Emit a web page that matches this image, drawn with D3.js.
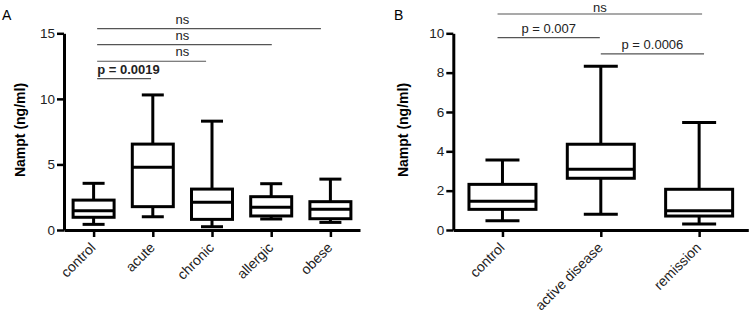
<!DOCTYPE html>
<html>
<head>
<meta charset="utf-8">
<script src="https://cdn.jsdelivr.net/npm/d3@7"></script>
<style>
  body { margin: 0; background: #fff; }
  svg { display: block; font-family: "Liberation Sans", Arial, sans-serif; }
</style>
</head>
<body>
<svg id="chart" width="750" height="315"></svg>
<script>
// panel A data
const catsA = ["control", "acute", "chronic", "allergic", "obese"];
const minA = [0.43, 1.01, 0.25, 0.84, 0.58];
const q1A = [0.97, 1.78, 0.81, 1.07, 0.86];
const medA = [1.47, 4.78, 2.11, 1.73, 1.58];
const q3A = [2.28, 6.55, 3.12, 2.54, 2.16];
const maxA = [3.56, 10.3, 8.3, 3.53, 3.88];
const yTicksA = [0, 5, 10, 15];

// significance bars A (x in category index units)
const sigLabelA = ["p = 0.0019", "ns", "ns", "ns"];
const sigFromA = [0.06, 0.06, 0.06, 0.06];
const sigToA = [0.97, 1.9, 3.01, 3.84];
const sigYA = [11.54, 12.87, 14.14, 15.36];

// panel B data
const catsB = ["control", "active disease", "remission"];
const minB = [0.47, 0.80, 0.31];
const q1B = [1.05, 2.63, 0.71];
const medB = [1.46, 3.09, 0.98];
const q3B = [2.32, 4.36, 2.07];
const maxB = [3.56, 8.32, 5.46];
const yTicksB = [0, 2, 4, 6, 8, 10];

const sigLabelB = ["ns", "p = 0.007", "p = 0.0006"];
const sigFromB = [-0.05, -0.05, 1.0];
const sigToB = [2.03, 0.99, 2.05];
const sigYB = [10.98, 9.78, 8.95];

const svg = d3.select("#chart");

function drawPanel(opt) {
  const g = svg.append("g");
  const x = d3.scalePoint().domain(opt.cats).range(opt.xRange).padding(0.5);
  const xi = d3.scaleLinear().domain([0, opt.cats.length - 1])
    .range([x(opt.cats[0]), x(opt.cats[opt.cats.length - 1])]);
  const y = d3.scaleLinear().domain(opt.yDomain).range([230, 33.3]);

  // y axis
  const ya = g.append("g")
    .attr("transform", `translate(${opt.xRange[0]},0)`)
    .call(d3.axisLeft(y).tickValues(opt.yTicks).tickSize(7).tickSizeOuter(0).tickPadding(2));
  ya.select(".domain").attr("stroke-width", 3);
  ya.selectAll(".tick line").attr("stroke-width", 2.5);
  ya.selectAll(".tick text").style("font-size", "13.5px").attr("fill", "#222");

  // x axis
  const xa = g.append("g")
    .attr("transform", "translate(0,230)")
    .call(d3.axisBottom(x).tickSize(7).tickSizeOuter(0));
  xa.select(".domain").attr("stroke-width", 3);
  xa.selectAll(".tick line").attr("stroke-width", 2.5);
  xa.selectAll(".tick text")
    .style("font-size", "14px")
    .attr("fill", "#222")
    .attr("text-anchor", "end")
    .attr("x", 0).attr("y", 0).attr("dy", "0.35em")
    .attr("transform", "translate(-1,15) rotate(-45)");

  // y label
  g.append("text")
    .attr("transform", `translate(${opt.labelX},130) rotate(-90)`)
    .attr("text-anchor", "middle")
    .style("font-size", "14px")
    .style("font-weight", "bold")
    .text("Nampt (ng/ml)");

  // panel letter
  g.append("text")
    .attr("x", opt.letterX).attr("y", 20)
    .style("font-size", "14px")
    .text(opt.letter);

  // boxes
  const data = opt.cats.map((c, i) => ({
    c, min: opt.min[i], q1: opt.q1[i], med: opt.med[i], q3: opt.q3[i], max: opt.max[i]
  }));
  const bw = opt.boxW, cw = opt.capW;
  const bx = g.selectAll(".box").data(data).enter().append("g")
    .attr("fill", "none").attr("stroke", "#000").attr("stroke-width", 3);
  bx.append("line")
    .attr("x1", d => x(d.c)).attr("x2", d => x(d.c))
    .attr("y1", d => y(d.max)).attr("y2", d => y(d.q3));
  bx.append("line")
    .attr("x1", d => x(d.c)).attr("x2", d => x(d.c))
    .attr("y1", d => y(d.q1)).attr("y2", d => y(d.min));
  bx.append("line")
    .attr("x1", d => x(d.c) - cw / 2).attr("x2", d => x(d.c) + cw / 2)
    .attr("y1", d => y(d.max)).attr("y2", d => y(d.max));
  bx.append("line")
    .attr("x1", d => x(d.c) - cw / 2).attr("x2", d => x(d.c) + cw / 2)
    .attr("y1", d => y(d.min)).attr("y2", d => y(d.min));
  bx.append("rect")
    .attr("x", d => x(d.c) - bw / 2).attr("width", bw)
    .attr("y", d => y(d.q3)).attr("height", d => y(d.q1) - y(d.q3))
    .attr("fill", "#fff");
  bx.append("line")
    .attr("x1", d => x(d.c) - bw / 2).attr("x2", d => x(d.c) + bw / 2)
    .attr("y1", d => y(d.med)).attr("y2", d => y(d.med));

  // significance bars
  const sig = opt.sigLabel.map((l, i) => ({
    l, from: opt.sigFrom[i], to: opt.sigTo[i], y: opt.sigY[i]
  }));
  const sg = g.selectAll(".sig").data(sig).enter().append("g");
  sg.append("line")
    .attr("x1", d => xi(d.from)).attr("x2", d => xi(d.to))
    .attr("y1", d => y(d.y)).attr("y2", d => y(d.y))
    .attr("stroke", "#555").attr("stroke-width", 1.2);
  sg.append("text")
    .attr("x", d => opt.sigTextX(d, xi))
    .attr("y", d => Math.max(y(d.y) - 5, 11.5))
    .attr("text-anchor", d => opt.sigAnchor(d))
    .style("font-size", "13px")
    .style("font-weight", d => d.l.startsWith("p") && opt.boldP ? "bold" : "normal")
    .attr("fill", "#222")
    .text(d => d.l);
}

drawPanel({
  cats: catsA, min: minA, q1: q1A, med: medA, q3: q3A, max: maxA,
  yDomain: [0, 15], yTicks: yTicksA, xRange: [64, 360],
  boxW: 41, capW: 22, labelX: 25, letter: "A", letterX: 2,
  sigLabel: sigLabelA, sigFrom: sigFromA, sigTo: sigToA, sigY: sigYA, boldP: true,
  sigTextX: (d, xi) => d.l === "ns" ? xi(1.5) : xi(d.from),
  sigAnchor: d => d.l === "ns" ? "middle" : "start"
});

drawPanel({
  cats: catsB, min: minB, q1: q1B, med: medB, q3: q3B, max: maxB,
  yDomain: [0, 10], yTicks: yTicksB, xRange: [453.3, 748.3],
  boxW: 67, capW: 34, labelX: 408, letter: "B", letterX: 394,
  sigLabel: sigLabelB, sigFrom: sigFromB, sigTo: sigToB, sigY: sigYB, boldP: false,
  sigTextX: (d, xi) => (xi(d.from) + xi(d.to)) / 2,
  sigAnchor: d => "middle"
});
</script>
</body>
</html>
